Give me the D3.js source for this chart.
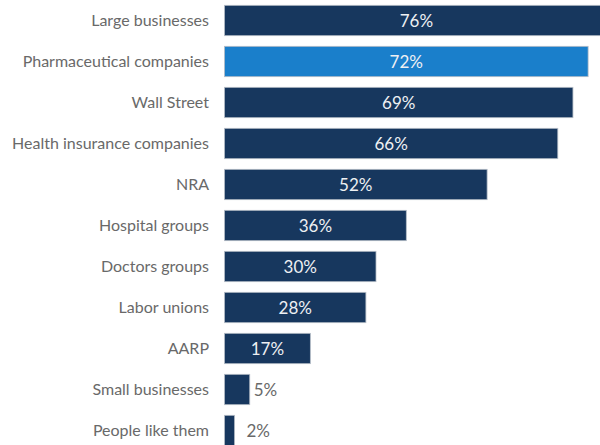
<!DOCTYPE html>
<html>
<head>
<meta charset="utf-8">
<script src="https://cdn.jsdelivr.net/npm/d3@7"></script>
<style>
  html, body { margin: 0; padding: 0; background: #fff; overflow: hidden; }
  text { font-family: Lato, "Open Sans", sans-serif; }
</style>
</head>
<body>
<div id="chart"></div>
<script>
// chart data
const categories = ['Large businesses', 'Pharmaceutical companies', 'Wall Street',
  'Health insurance companies', 'NRA', 'Hospital groups', 'Doctors groups',
  'Labor unions', 'AARP', 'Small businesses', 'People like them']
const values = [76, 72, 69, 66, 52, 36, 30, 28, 17, 5, 2]
const highlight = 'Pharmaceutical companies'

const width = 600,
  height = 445

let svg = d3.select('#chart')
  .append('svg')
  .attr('width', width)
  .attr('height', height)

const data = categories.map((c, i) => ({ name: c, value: values[i] }))

// scales
const x = d3.scaleLinear()
  .domain([0, 100])
  .range([224.5, 729.5])

const y = d3.scaleBand()
  .domain(categories)
  .range([0, 451])
  .paddingInner(0.26)
  .paddingOuter(0.13)

// bars
svg.selectAll('rect')
  .data(data)
  .enter()
  .append('rect')
  .attr('x', x(0))
  .attr('y', d => y(d.name))
  .attr('width', d => x(d.value) - x(0))
  .attr('height', y.bandwidth())
  .attr('fill', d => d.name === highlight ? '#1a7fcb' : '#17375e')
  .attr('stroke', '#b4bcc6')
  .attr('stroke-width', 0.8)

// category labels
svg.selectAll('.cat')
  .data(data)
  .enter()
  .append('text')
  .attr('class', 'cat')
  .attr('x', 209)
  .attr('y', d => y(d.name) + y.bandwidth() / 2)
  .attr('dy', '0.36em')
  .attr('text-anchor', 'end')
  .attr('fill', '#696969')
  .style('font-size', '16px')
  .text(d => d.name)

// value labels: inside for big bars, outside for tiny ones
svg.selectAll('.val')
  .data(data)
  .enter()
  .append('text')
  .attr('class', 'val')
  .attr('x', d => d.value > 10 ? (x(0) + x(d.value)) / 2 : Math.max(x(d.value) + 4, x(0) + 22))
  .attr('y', d => y(d.name) + y.bandwidth() / 2)
  .attr('dy', '0.38em')
  .attr('text-anchor', d => d.value > 10 ? 'middle' : 'start')
  .attr('fill', d => d.value > 10 ? '#eef0f3' : '#696969')
  .style('font-size', '17px')
  .text(d => d.value + '%')
</script>
</body>
</html>
